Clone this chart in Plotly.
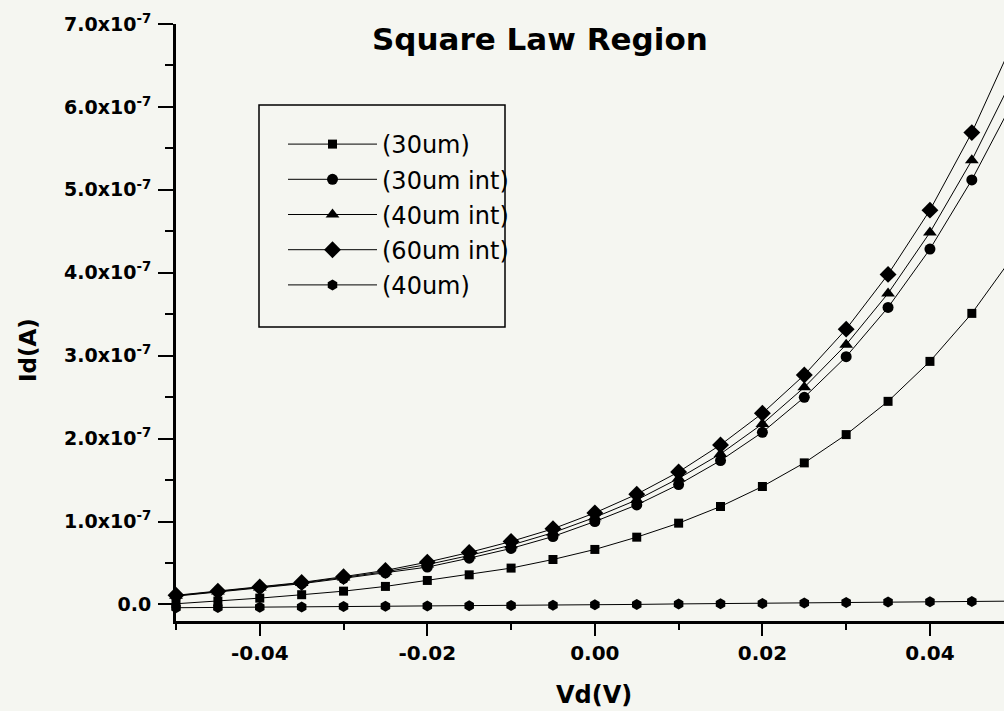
import plotly.graph_objects as go

# ---------------- data (Id in units of 1e-7 A) ----------------
SCALE = 1e-7
vd = [-0.050, -0.045, -0.040, -0.035, -0.030, -0.025, -0.020, -0.015, -0.010, -0.005,
      0.000, 0.005, 0.010, 0.015, 0.020, 0.025, 0.030, 0.035, 0.040, 0.045, 0.050]

id_30um = [0.008, 0.040, 0.076, 0.117, 0.160, 0.217, 0.289, 0.357, 0.438, 0.542,
           0.663, 0.811, 0.980, 1.181, 1.422, 1.707, 2.048, 2.449, 2.931, 3.510, 4.210]
id_30um_int = [0.100, 0.150, 0.200, 0.250, 0.315, 0.380, 0.450, 0.558, 0.675, 0.819,
               1.000, 1.200, 1.446, 1.735, 2.076, 2.498, 2.988, 3.582, 4.285, 5.120, 6.080]
id_40um_int = [0.105, 0.155, 0.205, 0.258, 0.325, 0.395, 0.480, 0.590, 0.715, 0.865,
               1.050, 1.260, 1.520, 1.815, 2.177, 2.618, 3.133, 3.751, 4.486, 5.357, 6.370]
id_60um_int = [0.110, 0.160, 0.210, 0.265, 0.335, 0.410, 0.510, 0.627, 0.759, 0.912,
               1.104, 1.329, 1.598, 1.924, 2.305, 2.767, 3.320, 3.980, 4.755, 5.690, 6.800]
id_40um = [-0.040, -0.038, -0.034, -0.030, -0.026, -0.022, -0.018, -0.016, -0.013, -0.010,
           -0.005, 0.000, 0.006, 0.009, 0.012, 0.018, 0.023, 0.028, 0.031, 0.036, 0.040]

series_names = ["(30um)", "(30um int)", "(40um int)", "(60um int)", "(40um)"]
series_values = [id_30um, id_30um_int, id_40um_int, id_60um_int, id_40um]
series_symbols = ["square", "circle", "triangle-up", "diamond", "hexagon"]
series_sizes = [9, 11, 12, 13, 11]

x_tick_vals = [-0.04, -0.02, 0.00, 0.02, 0.04]
x_tick_text = ["-0.04", "-0.02", "0.00", "0.02", "0.04"]
y_tick_vals = [0, 1e-7, 2e-7, 3e-7, 4e-7, 5e-7, 6e-7, 7e-7]
y_tick_text = ["0.0", "1.0x10<sup>-7</sup>", "2.0x10<sup>-7</sup>", "3.0x10<sup>-7</sup>",
               "4.0x10<sup>-7</sup>", "5.0x10<sup>-7</sup>", "6.0x10<sup>-7</sup>",
               "7.0x10<sup>-7</sup>"]

title_text = "Square Law Region"
x_title = "Vd(V)"
y_title = "Id(A)"

# ---------------- layout geometry ----------------
W, H = 1004, 711
ML, MR, MT, MB = 176, 0, 24, 90
PW, PH = W - ML - MR, H - MT - MB
BG = "#f5f6f1"
FONT = "DejaVu Sans"


def px(xp):
    return (xp - ML) / PW


def py(yp):
    return (H - MB - yp) / PH


fig = go.Figure()
for name, vals, sym, sz in zip(series_names, series_values, series_symbols, series_sizes):
    fig.add_trace(go.Scatter(
        x=vd, y=[v * SCALE for v in vals], name=name, mode="lines+markers",
        line=dict(color="black", width=1),
        marker=dict(symbol=sym, size=sz, color="black", line=dict(width=0)),
        cliponaxis=False, legendgroup=name,
    ))

axis_common = dict(
    showline=True, linecolor="black", linewidth=3, showgrid=False, zeroline=False,
    ticks="outside", tickcolor="black", tickwidth=2, mirror=False,
    tickmode="array",
)

fig.update_layout(
    width=W, height=H,
    margin=dict(l=ML, r=MR, t=MT, b=MB, pad=0),
    paper_bgcolor=BG, plot_bgcolor=BG,
    showlegend=True,
    legend=dict(
        x=px(283), y=py(122), xanchor="left", yanchor="top",
        bgcolor="rgba(0,0,0,0)", borderwidth=0,
        font=dict(family=FONT, size=24, color="black"),
        itemwidth=89, tracegroupgap=1,
    ),
    shapes=[
        dict(type="rect", xref="paper", yref="paper",
             x0=px(259), x1=px(505), y0=py(105), y1=py(327),
             line=dict(color="black", width=1.5), fillcolor="rgba(0,0,0,0)"),
    ],
    xaxis=dict(
        range=[-0.05, 0.04884], tickvals=x_tick_vals, ticktext=x_tick_text,
        ticklen=12,
        tickfont=dict(family=FONT, size=20, color="black", weight="bold"),
        minor=dict(dtick=0.01, tick0=-0.05, ticks="outside", ticklen=6,
                   tickwidth=2, tickcolor="black"),
        **axis_common,
    ),
    yaxis=dict(
        range=[-2e-8, 7e-7], tickvals=y_tick_vals, ticktext=y_tick_text,
        ticklen=15, ticklabelstandoff=3,
        tickfont=dict(family=FONT, size=19, color="black", weight="bold"),
        minor=dict(dtick=0.5e-7, tick0=0, ticks="outside", ticklen=8,
                   tickwidth=2, tickcolor="black"),
        **axis_common,
    ),
    annotations=[
        dict(text=title_text, x=px(540), y=py(39), xref="paper", yref="paper",
             xanchor="center", yanchor="middle", showarrow=False,
             font=dict(family=FONT, size=31, color="black", weight="bold")),
        dict(text=y_title, x=px(28), y=py(350), xref="paper", yref="paper",
             xanchor="center", yanchor="middle", showarrow=False, textangle=-90,
             font=dict(family=FONT, size=23, color="black", weight="bold")),
        dict(text=x_title, x=px(594), y=py(695), xref="paper", yref="paper",
             xanchor="center", yanchor="middle", showarrow=False,
             font=dict(family=FONT, size=24, color="black", weight="bold")),
    ],
)

fig.write_html(
    "out.html",
    config={"displayModeBar": False},
    post_script="document.body.style.margin='0';document.body.style.background='#f5f6f1';",
)
